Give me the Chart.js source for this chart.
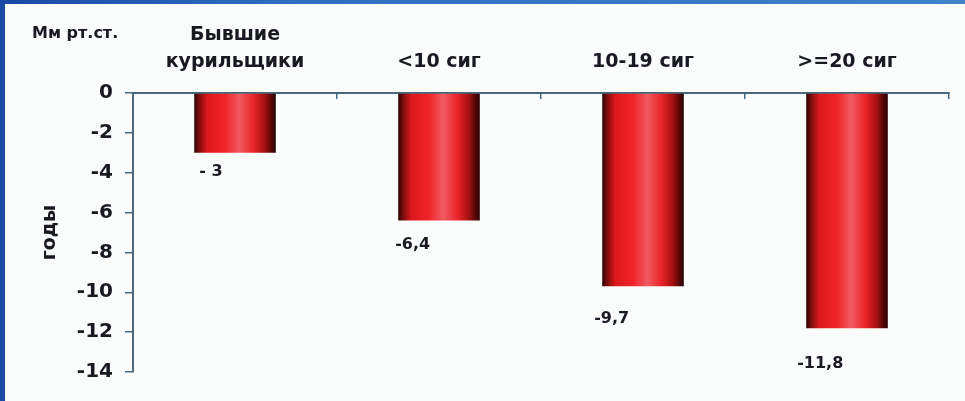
<!DOCTYPE html>
<html>
<head>
<meta charset="utf-8">
<script src="https://cdn.jsdelivr.net/npm/chart.js@4/dist/chart.umd.min.js"></script>
<style>
  html, body { margin: 0; padding: 0; }
  body { width: 965px; height: 401px; overflow: hidden; background: linear-gradient(to right, #1a4aa3 0%, #2f6fc0 30%, #3f83c9 100%); position: relative; }
  #panel { position: absolute; left: 5px; top: 4px; width: 960px; height: 397px; background: #fafbfb; }
</style>
</head>
<body>
<div id="panel"><canvas id="c" width="960" height="397"></canvas></div>
<script>
// ---- data ----
const categories = [['Бывшие', 'курильщики'], '<10 сиг', '10-19 сиг', '>=20 сиг'];
const values = [-3, -6.4, -9.7, -11.8];
const valueLabels = ['- 3', '-6,4', '-9,7', '-11,8'];
const yTicks = [0, -2, -4, -6, -8, -10, -12, -14];
const unitLabel = 'Мм рт.ст.';
const yTitle = 'годы';

// ---- styles ----
const FONT = '"DejaVu Sans", "Liberation Sans", Arial, sans-serif';
const axisColor = '#4a687c';
const textColor = '#171b21';
const labelShift = [[5, 19], [-3, 24], [-8, 33], [-9, 36]];
const barFrac = 0.4;

function barGradient(ctx) {
  const chart = ctx.chart;
  const xs = chart.scales && chart.scales.x;
  if (!chart.chartArea || !xs || !isFinite(xs.width)) return '#e8202a';
  const cx = xs.getPixelForValue(ctx.dataIndex);
  const half = xs.width / categories.length * barFrac / 2;
  const g = chart.ctx.createLinearGradient(cx - half, 0, cx + half, 0);
  g.addColorStop(0, '#2a0505');
  g.addColorStop(0.06, '#7a0c0c');
  g.addColorStop(0.16, '#dc181c');
  g.addColorStop(0.38, '#f0242a');
  g.addColorStop(0.55, '#f15a62');
  g.addColorStop(0.72, '#ec262b');
  g.addColorStop(0.86, '#a81010');
  g.addColorStop(0.95, '#520707');
  g.addColorStop(1, '#2a0404');
  return g;
}

const extraText = {
  id: 'extraText',
  afterDatasetsDraw(chart) {
    const c = chart.ctx;
    const meta = chart.getDatasetMeta(0);
    c.save();
    c.fillStyle = textColor;
    c.textAlign = 'left';
    c.textBaseline = 'middle';
    c.font = 'bold 16px ' + FONT;
    meta.data.forEach((bar, i) => {
      const p = bar.getProps(['x', 'y', 'width'], true);
      c.fillText(valueLabels[i], p.x - p.width / 2 + labelShift[i][0], p.y + labelShift[i][1]);
    });
    c.font = 'bold 16px ' + FONT;
    c.fillText(unitLabel, 27, 30);
    c.restore();
  }
};

new Chart(document.getElementById('c'), {
  type: 'bar',
  data: {
    labels: categories,
    datasets: [{
      data: values,
      backgroundColor: barGradient,
      borderWidth: 0,
      categoryPercentage: 0.8,
      barPercentage: 0.5
    }]
  },
  options: {
    responsive: false,
    animation: false,
    devicePixelRatio: 1,
    layout: { padding: { left: 0, top: 0, right: 16, bottom: 29 } },
    plugins: { legend: { display: false }, tooltip: { enabled: false } },
    scales: {
      x: {
        position: 'top',
        offset: true,
        grid: { offset: true, drawOnChartArea: false, tickLength: -6, color: axisColor, lineWidth: 1.5 },
        border: { color: axisColor, width: 2 },
        ticks: {
          color: textColor,
          font: { family: FONT, size: 19, weight: 'bold', lineHeight: 1.42 },
          padding: 23,
          maxRotation: 0,
          autoSkip: false
        },
        afterFit(scale) { scale.height = 89; }
      },
      y: {
        min: -14,
        max: 0,
        afterBuildTicks(scale) { scale.ticks = yTicks.map(v => ({ value: v })); },
        grid: { drawOnChartArea: false, tickLength: 8, color: axisColor, lineWidth: 1.5 },
        border: { color: axisColor, width: 2 },
        ticks: {
          color: textColor,
          font: { family: FONT, size: 20, weight: 'bold' },
          padding: 12
        },
        title: {
          display: true,
          text: yTitle,
          color: textColor,
          font: { family: FONT, size: 19, weight: 'bold', lineHeight: 1.2 },
          padding: { top: 34, bottom: 0 }
        },
        afterFit(scale) { scale.width = 128; }
      }
    }
  },
  plugins: [extraText]
});
</script>
</body>
</html>
